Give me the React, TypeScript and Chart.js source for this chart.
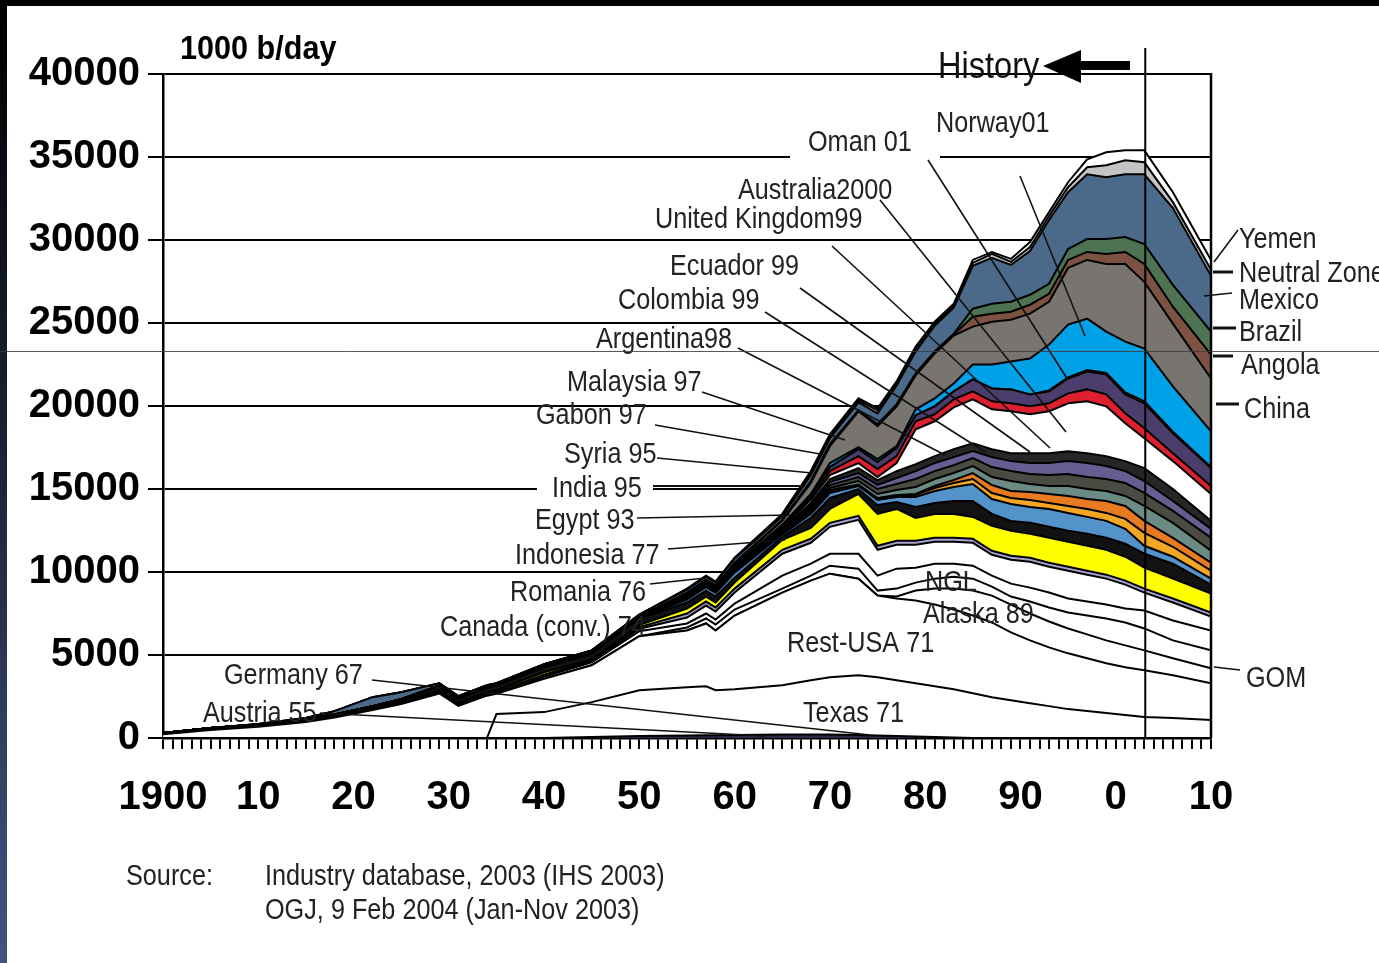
import React, { useEffect, useRef } from "react";
import { Chart, registerables } from "chart.js";
Chart.register(...registerables);

// ---------------- data (1000 b/day, per layer, bottom to top) ----------------
const YEARS = [1900,1905,1910,1915,1918,1922,1925,1929,1931,1934,1935,1940,1945,1950,1955,1957,1958,1960,1965,1968,1970,1973,1975,1977,1979,1981,1983,1985,1987,1989,1991,1993,1995,1997,1999,2001,2003,2006,2010];

const AUSTRIA_GERMANY = [0,0,0,0,0,0,0,0,0,0,0,0,60,120,150,160,160,180,210,210,210,180,150,120,90,60,30,0,0,0,0,0,0,0,0,0,0,0,0];
const TEXAS = [0,0,0,0,0,0,0,0,0,0,1440,1560,2100,2760,2910,2960,2720,2760,2970,3270,3450,3600,3510,3360,3210,3060,2910,2700,2460,2280,2100,1920,1740,1620,1500,1380,1260,1200,1080];
const REST_USA = [220,480,680,960,1240,1680,2050,2680,1940,2550,1220,2000,2220,3250,3420,3780,3600,4440,5580,6000,6240,5820,4920,4920,4980,4920,4800,4680,4500,4080,3780,3540,3360,3180,3000,2880,2820,2580,2220];
const ALASKA = [0,0,0,0,0,0,0,0,0,0,0,0,0,0,0,0,0,0,0,0,0,0,0,120,600,960,1260,1500,1620,1680,1620,1560,1500,1440,1380,1320,1200,1020,900];
const GOM = [0,0,0,0,0,0,0,0,0,0,0,0,0,0,180,300,360,360,240,300,480,600,300,480,480,600,720,720,540,480,720,840,960,1140,1320,1380,1320,1080,1080];
const NGL = [0,0,0,0,0,0,0,0,0,0,0,120,180,300,240,300,300,360,780,720,720,900,900,1200,900,900,780,780,660,780,840,900,840,840,840,840,1080,1200,1200];
const CANADA = [0,0,0,0,0,0,0,0,0,0,0,20,30,150,360,480,480,660,1320,1260,1620,2040,1560,1440,1380,1320,1320,1380,1260,1440,1560,1560,1680,1620,1560,1440,1080,1080,840];
const ROMANIA = [40,60,60,60,40,60,80,100,110,130,130,110,80,100,240,240,240,240,240,240,240,240,240,240,240,240,240,240,240,240,240,240,240,240,240,240,240,240,240];
const INDONESIA = [20,30,40,60,60,60,70,90,90,100,100,150,60,130,300,300,300,360,600,660,840,1320,1920,1920,1380,1440,1440,1320,1500,1500,1440,1500,1500,1500,1500,1440,1260,1200,1140];
const EGYPT = [20,30,40,60,80,100,120,220,220,240,250,300,340,380,360,360,360,300,180,600,660,300,540,420,660,660,780,960,720,600,660,660,660,720,720,780,840,900,540];
const INDIA = [0,0,0,0,0,0,0,0,0,0,0,0,0,30,180,210,210,300,150,240,300,180,300,300,600,720,840,1020,900,1020,960,1080,1080,1020,1020,900,480,420,360];
const SYRIA = [0,0,0,0,0,0,0,0,0,0,0,0,0,0,30,30,30,60,60,120,120,60,60,60,120,180,240,300,360,360,420,360,420,480,480,600,780,600,480];
const GABON = [0,0,0,0,0,0,0,0,0,0,0,0,0,0,30,30,30,30,30,60,60,30,60,60,60,120,180,360,480,420,480,540,600,600,720,780,720,540,480];
const MALAYSIA = [0,0,0,0,0,0,0,0,0,0,0,0,0,0,30,30,30,30,60,120,120,210,240,300,420,420,420,420,480,600,480,480,600,600,600,600,900,900,720];
const ARGENTINA = [0,0,0,0,0,0,0,0,0,0,0,0,0,0,30,30,30,60,60,120,180,240,300,360,480,480,480,480,600,600,600,660,720,720,720,780,780,720,780];
const COLOMBIA = [0,0,0,0,0,0,0,0,0,0,0,0,0,0,30,30,30,30,60,120,180,240,240,360,480,480,480,420,600,600,660,720,780,840,780,720,720,600,540];
const ECUADOR = [0,0,0,0,0,20,20,60,60,60,60,80,90,100,30,30,30,30,60,120,180,300,300,420,420,420,480,480,480,480,600,600,600,600,600,600,780,720,480];
const UNITED_KINGDOM = [0,0,0,0,0,0,0,0,0,0,0,0,0,0,60,60,60,90,90,180,240,300,180,480,2100,2100,2520,2640,2400,2520,2340,2520,2880,3120,3000,2280,1800,1680,1620];
const AUSTRALIA = [0,0,0,0,0,0,0,0,0,0,0,0,0,0,30,30,30,30,60,120,240,420,480,420,480,420,480,480,480,480,480,480,600,720,720,600,600,480,480];
const OMAN = [0,0,0,0,0,0,0,0,0,0,0,0,0,0,30,30,30,30,60,180,240,420,420,480,360,480,480,720,780,840,720,720,900,1080,1200,1140,1500,1200,1080];
const OTHERS = [0,0,0,0,0,0,0,0,0,0,0,0,0,0,0,0,0,0,0,0,0,0,0,0,0,0,0,0,0,0,0,60,60,90,90,120,120,90,60];
const NORWAY = [0,0,0,0,0,0,0,0,0,0,0,0,0,0,30,30,30,30,30,60,240,120,180,120,360,480,480,900,1440,1680,2160,2760,3180,3090,2490,3060,3180,2730,2160];
const CHINA = [0,0,0,0,0,0,0,0,0,0,0,0,0,0,30,60,60,120,240,660,1020,2160,1980,2400,2040,2700,2880,2280,2580,2520,2700,2580,3420,3540,4080,4680,4020,3780,3180];
const ANGOLA = [0,0,0,0,0,0,0,0,0,0,0,0,0,0,30,30,30,30,30,60,60,30,60,60,60,60,60,600,480,480,540,480,480,480,600,720,1080,1020,1440];
const BRAZIL = [0,0,0,0,0,0,0,0,0,0,0,0,0,0,30,30,30,30,30,60,60,30,60,60,60,60,60,480,600,600,600,600,660,780,900,900,1200,1320,1380];
const MEXICO = [0,0,20,60,200,540,420,150,100,100,100,100,120,120,180,180,180,240,210,360,360,480,660,1140,1320,1560,1560,2580,2760,2220,2640,3840,3420,3900,3720,3780,4200,4620,3360];
const NEUTRAL_ZONE = [0,0,0,0,0,0,0,0,0,0,0,0,0,0,30,30,30,30,90,120,120,120,180,120,180,120,120,180,240,180,240,240,300,420,720,840,720,360,360];
const YEMEN = [0,0,0,0,0,0,0,0,0,0,0,0,0,0,30,30,30,30,60,120,120,120,120,120,120,120,120,180,120,180,300,240,300,480,780,600,720,600,600];

const HISTORY_YEAR = 2003.1;
const Y_MIN = 0;
const Y_MAX = 40000;
const Y_STEP = 5000;
const X_MIN = 1900;
const X_MAX = 2010;

const LAYERS = [
  { name: "Austria/Germany", data: AUSTRIA_GERMANY, color: "#2d2748" },
  { name: "Texas", data: TEXAS, color: "#ffffff" },
  { name: "Rest-USA", data: REST_USA, color: "#ffffff" },
  { name: "Alaska", data: ALASKA, color: "#ffffff" },
  { name: "GOM", data: GOM, color: "#ffffff" },
  { name: "NGL", data: NGL, color: "#ffffff" },
  { name: "Canada (conv.)", data: CANADA, color: "#ffffff" },
  { name: "Romania", data: ROMANIA, color: "#aaa4c8" },
  { name: "Indonesia", data: INDONESIA, color: "#ffff00" },
  { name: "Egypt", data: EGYPT, color: "#121212" },
  { name: "India", data: INDIA, color: "#5493c9" },
  { name: "Syria", data: SYRIA, color: "#f2a623" },
  { name: "Gabon", data: GABON, color: "#e87b22" },
  { name: "Malaysia", data: MALAYSIA, color: "#6d8b85" },
  { name: "Argentina", data: ARGENTINA, color: "#4a4b43" },
  { name: "Colombia", data: COLOMBIA, color: "#685d91" },
  { name: "Ecuador", data: ECUADOR, color: "#262626" },
  { name: "United Kingdom", data: UNITED_KINGDOM, color: "#ffffff" },
  { name: "Australia", data: AUSTRALIA, color: "#dd1f2e" },
  { name: "Oman", data: OMAN, color: "#4b3e6d" },
  { name: "Others", data: OTHERS, color: "#f2ee00" },
  { name: "Norway", data: NORWAY, color: "#00a1e6" },
  { name: "China", data: CHINA, color: "#787470" },
  { name: "Angola", data: ANGOLA, color: "#7e5242" },
  { name: "Brazil", data: BRAZIL, color: "#4d7352" },
  { name: "Mexico", data: MEXICO, color: "#4b6a89" },
  { name: "Neutral Zone", data: NEUTRAL_ZONE, color: "#c4c4c4" },
  { name: "Yemen", data: YEMEN, color: "#ffffff" },
];

// ---------------- annotations (text + pointer lines, page pixels) ----------------
const LABELS: [string, number, number][] = [
  ["Norway01", 936, 132],
  ["Oman 01", 808, 151],
  ["Australia2000", 738, 199],
  ["United Kingdom99", 655, 228],
  ["Ecuador 99", 670, 275],
  ["Colombia 99", 618, 309],
  ["Argentina98", 596, 348],
  ["Malaysia 97", 567, 391],
  ["Gabon 97", 536, 424],
  ["Syria 95", 564, 463],
  ["India 95", 552, 497],
  ["Egypt 93", 535, 529],
  ["Indonesia 77", 515, 564],
  ["Romania 76", 510, 601],
  ["Canada (conv.) 74", 440, 636],
  ["Germany 67", 224, 684],
  ["Austria 55", 203, 722],
  ["NGL", 925, 591],
  ["Alaska 89", 923, 623],
  ["Rest-USA 71", 787, 652],
  ["Texas 71", 803, 722],
  ["Yemen", 1239, 248],
  ["Neutral Zone", 1239, 282],
  ["Mexico", 1239, 309],
  ["Brazil", 1239, 341],
  ["Angola", 1241, 374],
  ["China", 1244, 418],
  ["GOM", 1246, 687],
];

const LABEL_BOXES: [number, number, number, number][] = [
  [790, 124, 150, 38],
  [537, 472, 116, 30],
];

const POINTERS: [number, number, number, number, number][] = [
  [1020, 176, 1085, 336, 1.6],
  [928, 160, 1068, 380, 1.6],
  [880, 200, 1066, 432, 1.6],
  [832, 246, 1050, 448, 1.6],
  [800, 288, 1030, 452, 1.6],
  [765, 312, 985, 452, 1.6],
  [738, 348, 945, 455, 1.6],
  [702, 392, 845, 440, 1.6],
  [655, 425, 826, 455, 1.6],
  [657, 458, 812, 473, 1.6],
  [653, 486, 805, 486, 2],
  [637, 518, 790, 515, 1.6],
  [668, 549, 785, 540, 1.6],
  [650, 584, 705, 578, 1.6],
  [372, 680, 870, 735, 1.6],
  [320, 713, 765, 736, 1.6],
  [1238, 230, 1214, 262, 1.6],
  [1213, 272, 1233, 272, 3],
  [1204, 296, 1232, 293, 1.6],
  [1213, 328, 1236, 328, 3],
  [1213, 356, 1233, 356, 3],
  [1216, 404, 1239, 404, 3],
  [1214, 667, 1240, 670, 1.6],
];

const FONT = '"Liberation Sans", Arial, sans-serif';

function drawText(ctx: CanvasRenderingContext2D, s: string, x: number, y: number, size: number, weight: string, sx: number, color: string) {
  ctx.save();
  ctx.font = `${weight} ${size}px ${FONT}`;
  ctx.fillStyle = color;
  ctx.textAlign = "left";
  ctx.textBaseline = "alphabetic";
  ctx.translate(x, y);
  ctx.scale(sx, 1);
  ctx.fillText(s, 0, 0);
  ctx.restore();
}

const overlayPlugin = {
  id: "overlay",
  beforeDraw(chart: any) {
    const { ctx, width, height } = chart;
    ctx.save();
    ctx.fillStyle = "#ffffff";
    ctx.fillRect(0, 0, width, height);
    ctx.restore();
  },
  afterDatasetsDraw(chart: any) {
    const { ctx, chartArea, scales } = chart;
    ctx.save();
    ctx.strokeStyle = "#000";
    ctx.lineWidth = 2.5;
    ctx.beginPath();
    ctx.moveTo(chartArea.right, chartArea.top - 1);
    ctx.lineTo(chartArea.right, chartArea.bottom);
    ctx.stroke();

    const hx = scales.x.getPixelForValue(HISTORY_YEAR);
    ctx.lineWidth = 2;
    ctx.beginPath();
    ctx.moveTo(hx, 48);
    ctx.lineTo(hx, chartArea.bottom);
    ctx.stroke();

    ctx.fillStyle = "#000";
    ctx.fillRect(1078, 61, 52, 9);
    ctx.beginPath();
    ctx.moveTo(1043, 66);
    ctx.lineTo(1081, 50);
    ctx.lineTo(1081, 83);
    ctx.closePath();
    ctx.fill();

    ctx.fillStyle = "#ffffff";
    for (const b of LABEL_BOXES) ctx.fillRect(b[0], b[1], b[2], b[3]);

    ctx.strokeStyle = "#111";
    for (const p of POINTERS) {
      ctx.lineWidth = p[4];
      ctx.beginPath();
      ctx.moveTo(p[0], p[1]);
      ctx.lineTo(p[2], p[3]);
      ctx.stroke();
    }
    ctx.restore();

    for (const l of LABELS) drawText(ctx, l[0], l[1], l[2], 29, "normal", 0.87, "#222");
    drawText(ctx, "History", 938, 78, 37, "normal", 0.88, "#111");
    drawText(ctx, "1000 b/day", 180, 59, 34, "bold", 0.9, "#000");
    drawText(ctx, "Source:", 126, 885, 29, "normal", 0.87, "#222");
    drawText(ctx, "Industry database, 2003 (IHS 2003)", 265, 885, 29, "normal", 0.87, "#222");
    drawText(ctx, "OGJ, 9 Feb 2004 (Jan-Nov 2003)", 265, 919, 29, "normal", 0.87, "#222");
  },
  afterDraw(chart: any) {
    const { ctx, width, height } = chart;
    ctx.save();
    ctx.fillStyle = "#000";
    ctx.fillRect(0, 0, width, 6);
    const g = ctx.createLinearGradient(0, 0, 0, height);
    g.addColorStop(0, "#000000");
    g.addColorStop(0.5, "#1d2638");
    g.addColorStop(1, "#3f5582");
    ctx.fillStyle = g;
    ctx.fillRect(0, 0, 7, height);
    ctx.strokeStyle = "rgba(60,60,60,0.85)";
    ctx.lineWidth = 1;
    ctx.beginPath();
    ctx.moveTo(0, 351.5);
    ctx.lineTo(width, 351.5);
    ctx.stroke();
    ctx.restore();
  },
};

export default function App() {
  const ref = useRef<HTMLCanvasElement>(null);
  useEffect(() => {
    const datasets = LAYERS.map((l, i) => ({
      label: l.name,
      data: YEARS.map((yr, k) => ({ x: yr, y: l.data[k] })),
      backgroundColor: l.color,
      borderColor: "#000",
      borderWidth: 2,
      pointRadius: 0,
      tension: 0,
      fill: i === 0 ? "origin" : "-1",
    }));
    const chart = new Chart(ref.current as HTMLCanvasElement, {
      type: "line",
      data: { datasets },
      options: {
        responsive: false,
        animation: false,
        events: [],
        layout: { padding: { left: 0, top: 74, right: 168, bottom: 0 } },
        plugins: { legend: { display: false }, tooltip: { enabled: false } },
        scales: {
          x: {
            type: "linear",
            min: X_MIN,
            max: X_MAX,
            afterFit: (s: any) => { s.height = 225; },
            grid: { display: true, drawOnChartArea: false, drawTicks: true, tickLength: 11, color: "#000", lineWidth: 2 },
            border: { display: true, color: "#000", width: 2.5 },
            ticks: {
              stepSize: 1,
              autoSkip: false,
              maxRotation: 0,
              minRotation: 0,
              padding: 25,
              color: "#000",
              font: { family: FONT, size: 40, weight: "bold" },
              callback: (v: any) => {
                const n = Number(v);
                if (n % 10 !== 0) return "";
                if (n === 1900) return "1900";
                return String(n % 100);
              },
            },
          },
          y: {
            stacked: true,
            min: Y_MIN,
            max: Y_MAX,
            afterFit: (s: any) => { s.width = 163; },
            grid: { display: true, drawOnChartArea: true, drawTicks: true, tickLength: 15, color: "#000", lineWidth: 2 },
            border: { display: true, color: "#000", width: 2.5 },
            ticks: {
              stepSize: Y_STEP,
              padding: 8,
              color: "#000",
              font: { family: FONT, size: 40, weight: "bold" },
              callback: (v: any) => String(v),
            },
          },
        },
      },
      plugins: [overlayPlugin],
    } as any);
    return () => chart.destroy();
  }, []);
  return (
    <div style={{ position: "fixed", left: 0, top: 0, width: 1379, height: 963, overflow: "hidden", background: "#fff" }}>
      <canvas ref={ref} width={1379} height={963} style={{ display: "block", width: 1379, height: 963 }} />
    </div>
  );
}
